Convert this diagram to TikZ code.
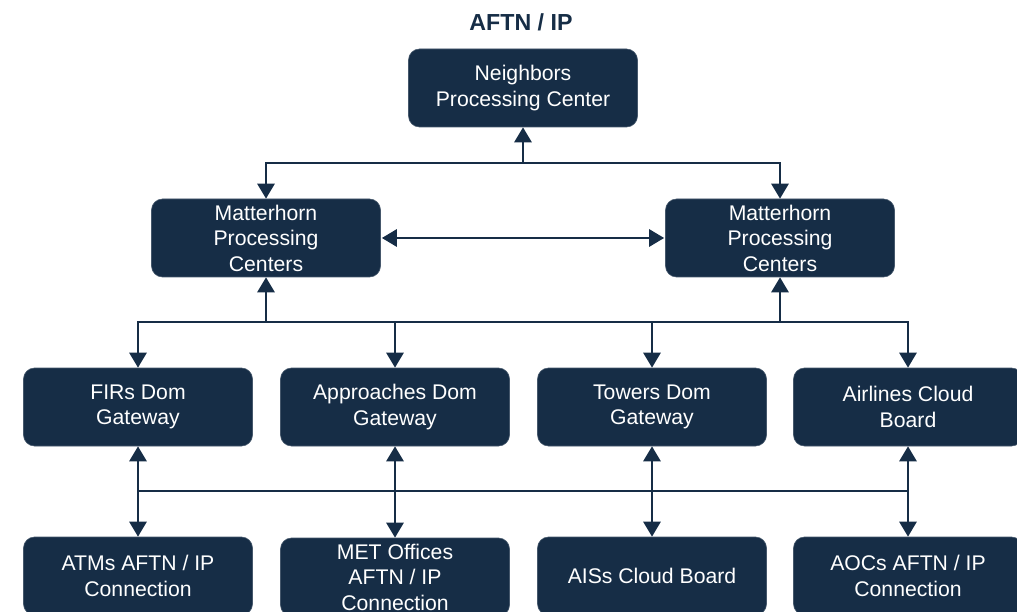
\documentclass[tikz,border=0pt]{standalone}
\usepackage{fontspec}
\setmainfont{Liberation Sans}
\usetikzlibrary{arrows.meta,positioning}
\definecolor{navy}{HTML}{162D46}
\begin{document}
\begin{tikzpicture}[x=1pt,y=-1pt,
  box/.style={fill=navy,draw=navy!80!white,line width=0.6pt,rounded corners=11pt,minimum width=229pt,minimum height=78pt,inner sep=0pt,text=white,align=center,font=\fontsize{21.2}{25.5}\selectfont},
  conn/.style={draw=navy,line width=2.8pt,line join=miter},
  tip/.style={-{Triangle[length=15pt,width=17pt]}},
  tips/.style={{Triangle[length=15pt,width=17pt]}-{Triangle[length=15pt,width=17pt]}}]
\useasboundingbox (0,0) rectangle (1017,612);
\node[font=\bfseries\fontsize{23.2}{27}\selectfont,text=navy] (title) at (521,22) {AFTN / IP};
\node[box] (nb) at (523,88) {Neighbors\\Processing Center};
\node[box] (ml) at (266,238) {Matterhorn\\Processing\\Centers};
\node[box] (mr) at (780,238) {Matterhorn\\Processing\\Centers};
\node[box] (ra) at (138,407) {FIRs Dom\\Gateway};
\node[box] (rb) at (395,407) {Approaches Dom\\Gateway};
\node[box] (rc) at (652,407) {Towers Dom\\Gateway};
\node[box] (rd) at (908,407) {Airlines Cloud\\Board};
\node[box] (sa) at (138,576) {ATMs AFTN / IP\\Connection};
\node[box] (sb) at (395,577) {MET Offices\\AFTN / IP\\Connection};
\node[box] (sc) at (652,576) {AISs Cloud Board};
\node[box] (sd) at (908,576) {AOCs AFTN / IP\\Connection};
\coordinate (b1) at (523,163);
\coordinate (b2) at (523,322);
\coordinate (b3) at (523,491);
% top bus
\draw[conn,tip] (b1) -- (nb.south);
\draw[conn,tip] (b1) -| (ml.north);
\draw[conn,tip] (b1) -| (mr.north);
\draw[conn,tips,shorten <=1pt,shorten >=1pt] (ml.east) -- (mr.west);
% middle bus
\draw[conn,tip] (b2) -| (ra.north);
\draw[conn,tip] (b2) -| (rd.north);
\draw[conn,tip] (rb.north|-b2) -- (rb.north);
\draw[conn,tip] (rc.north|-b2) -- (rc.north);
\draw[conn,tip] (ml.south|-b2) -- (ml.south);
\draw[conn,tip] (mr.south|-b2) -- (mr.south);
% bottom bus
\draw[conn] (ra.south|-b3) -- (rd.south|-b3);
\draw[conn,tips] (ra.south) -- (sa.north);
\draw[conn,tips] (rb.south) -- (sb.north);
\draw[conn,tips] (rc.south) -- (sc.north);
\draw[conn,tips] (rd.south) -- (sd.north);
\end{tikzpicture}
\end{document}
